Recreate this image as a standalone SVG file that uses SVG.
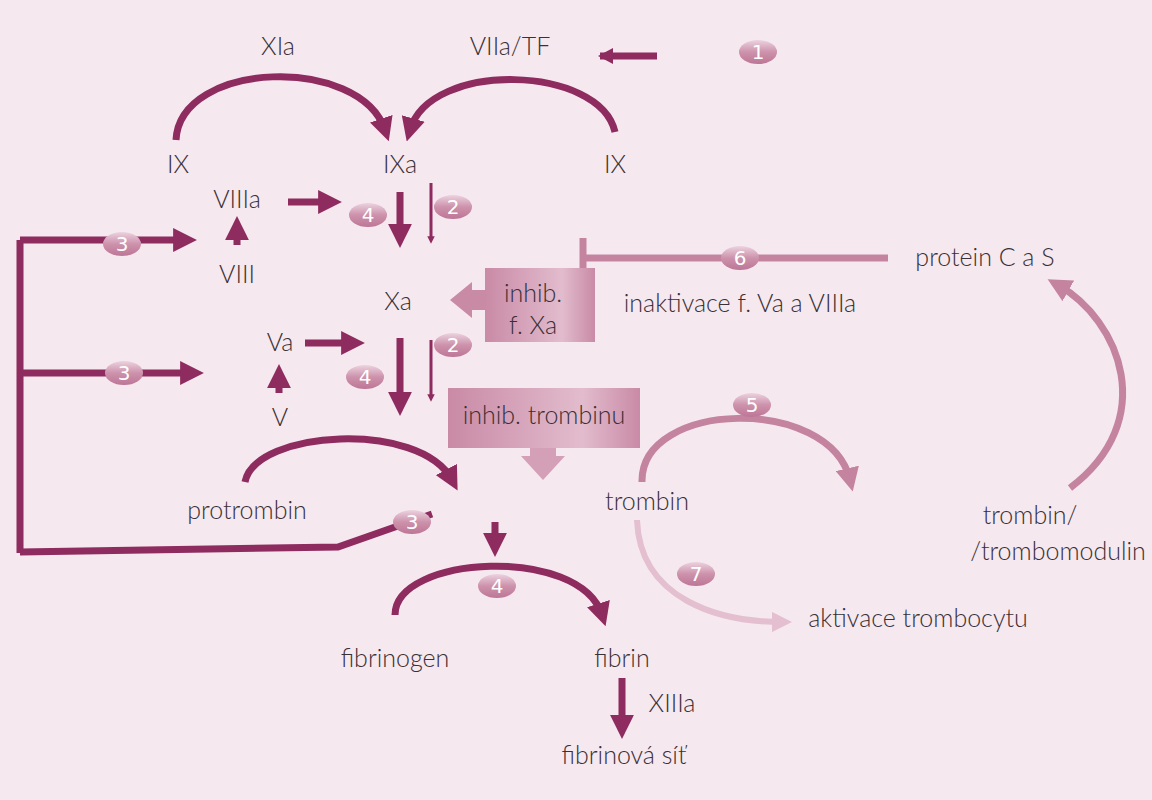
<svg xmlns="http://www.w3.org/2000/svg" width="1152" height="800" viewBox="0 0 1152 800">
<style>
text{font-family:Lato,"Open Sans","DejaVu Sans",sans-serif;font-size:25px;font-weight:300;fill:#3a3035;text-anchor:middle}
.d{fill:none;stroke:#8e2b5f;stroke-width:7}
.t{fill:none;stroke:#8e2b5f;stroke-width:3}
.m{fill:none;stroke:#c4839f;stroke-width:7}
.l{fill:none;stroke:#e4bfcf;stroke-width:6}
text.bn{fill:#fff;font-family:"DejaVu Sans",sans-serif;font-size:20px;font-weight:normal}
</style>
<defs>
<marker id="ad" viewBox="0 0 10 10" refX="5" refY="5" markerWidth="3.4" markerHeight="3.4" orient="auto" markerUnits="strokeWidth"><path d="M0,0L10,5L0,10z" fill="#8e2b5f"/></marker>
<marker id="at" viewBox="0 0 10 10" refX="5" refY="5" markerWidth="2.5" markerHeight="2.5" orient="auto" markerUnits="strokeWidth"><path d="M0,0L10,5L0,10z" fill="#8e2b5f"/></marker>
<marker id="am" viewBox="0 0 10 10" refX="5" refY="5" markerWidth="3.4" markerHeight="3.4" orient="auto" markerUnits="strokeWidth"><path d="M0,0L10,5L0,10z" fill="#c4839f"/></marker>
<marker id="al" viewBox="0 0 10 10" refX="5" refY="5" markerWidth="3.4" markerHeight="3.4" orient="auto" markerUnits="strokeWidth"><path d="M0,0L10,5L0,10z" fill="#e4bfcf"/></marker>
<linearGradient id="bg" x1="0" y1="0" x2="0" y2="1"><stop offset="0" stop-color="#ecd3df"/><stop offset="0.5" stop-color="#cd92ac"/><stop offset="1" stop-color="#bd7696"/></linearGradient>
<linearGradient id="bx" x1="0" y1="0" x2="1" y2="0"><stop offset="0" stop-color="#c98aa6"/><stop offset="0.7" stop-color="#e2bccd"/><stop offset="1" stop-color="#c98aa6"/></linearGradient>
</defs>
<rect width="1152" height="800" fill="#f6e8ef"/>
<g id="connectors">
<path class="d" d="M600,56H657"/><path d="M598,56l15,-8v16z" fill="#8e2b5f"/>
<path class="d" d="M176,140C180,60 360,55 385,130" marker-end="url(#ad)"/>
<path class="d" d="M615,132C600,65 430,60 410,130" marker-end="url(#ad)"/>
<path class="d" d="M288,202H330" marker-end="url(#ad)"/>
<path class="d" d="M400,192V236" marker-end="url(#ad)"/>
<path class="t" d="M431,183V240" marker-end="url(#at)"/>
<path class="d" d="M20,240V553M20,240H185" marker-end="url(#ad)"/>
<path class="d" d="M237,245V228" marker-end="url(#ad)"/>
<path class="d" d="M20,373H192" marker-end="url(#ad)"/>
<path class="d" d="M305,343H353" marker-end="url(#ad)"/>
<path class="d" d="M400,338V404" marker-end="url(#ad)"/>
<path class="t" d="M431,340V398" marker-end="url(#at)"/>
<path class="d" d="M279,393V376" marker-end="url(#ad)"/>
<path class="d" d="M245,482C255,430 420,420 452,480" marker-end="url(#ad)"/>
<path class="d" d="M20,552L338,547L432,514"/>
<path class="d" d="M495,522V545" marker-end="url(#ad)"/>
<path class="d" d="M395,615C395,555 580,545 602,615" marker-end="url(#ad)"/>
<path class="d" d="M622,678V727" marker-end="url(#ad)"/>
<path class="m" d="M888,258H583M583,238V270"/>
<path class="m" d="M642,482C640,400 830,395 850,480" marker-end="url(#am)"/>
<path class="m" d="M1070,488C1160,420 1120,320 1058,285" marker-end="url(#am)"/>
<path class="l" d="M637,520C640,600 720,622 782,622" marker-end="url(#al)"/>
<path d="M450,300L472,282V290H490V310H472V318z" fill="#c98aa6"/>
<rect x="485" y="268" width="110" height="74" fill="url(#bx)"/>
<rect x="448" y="388" width="192" height="60" fill="url(#bx)"/>
<path d="M530,448H556V456H565L543,480L521,456H530z" fill="#d4a0b8"/>
</g>
<g id="badges">
<g id="b1"><ellipse cx="758" cy="52" rx="19" ry="12" fill="url(#bg)"/><text class="bn" x="758" y="59">1</text></g>
<g id="b2a"><ellipse cx="453" cy="207" rx="19" ry="12" fill="url(#bg)"/><text class="bn" x="453" y="214">2</text></g>
<g id="b4a"><ellipse cx="368" cy="215" rx="19" ry="12" fill="url(#bg)"/><text class="bn" x="368" y="222">4</text></g>
<g id="b3a"><ellipse cx="122" cy="244" rx="19" ry="12" fill="url(#bg)"/><text class="bn" x="122" y="251">3</text></g>
<g id="b6"><ellipse cx="740" cy="258" rx="19" ry="12" fill="url(#bg)"/><text class="bn" x="740" y="265">6</text></g>
<g id="b2b"><ellipse cx="453" cy="345" rx="19" ry="12" fill="url(#bg)"/><text class="bn" x="453" y="352">2</text></g>
<g id="b3b"><ellipse cx="124" cy="373" rx="19" ry="12" fill="url(#bg)"/><text class="bn" x="124" y="380">3</text></g>
<g id="b4b"><ellipse cx="365" cy="377" rx="19" ry="12" fill="url(#bg)"/><text class="bn" x="365" y="384">4</text></g>
<g id="b5"><ellipse cx="752" cy="405" rx="19" ry="12" fill="url(#bg)"/><text class="bn" x="752" y="412">5</text></g>
<g id="b3c"><ellipse cx="412" cy="522" rx="19" ry="12" fill="url(#bg)"/><text class="bn" x="412" y="529">3</text></g>
<g id="b4c"><ellipse cx="497" cy="586" rx="19" ry="12" fill="url(#bg)"/><text class="bn" x="497" y="593">4</text></g>
<g id="b7"><ellipse cx="696" cy="574" rx="19" ry="12" fill="url(#bg)"/><text class="bn" x="696" y="581">7</text></g>
</g>
<g id="nodes">
<g id="n-xia"><text x="278" y="55">XIa</text></g>
<g id="n-viiatf"><text x="510" y="55">VIIa/TF</text></g>
<g id="n-ix1"><text x="178" y="173">IX</text></g>
<g id="n-ixa"><text x="400" y="173">IXa</text></g>
<g id="n-ix2"><text x="615" y="173">IX</text></g>
<g id="n-viiia"><text x="237" y="208">VIIIa</text></g>
<g id="n-viii"><text x="237" y="283">VIII</text></g>
<g id="n-proteinc"><text x="985" y="266">protein C a S</text></g>
<g id="n-xa"><text x="398" y="310">Xa</text></g>
<g id="n-inhxa"><text x="533" y="302">inhib.</text><text x="533" y="334">f. Xa</text></g>
<g id="n-inakt"><text x="740" y="312">inaktivace f. Va a VIIIa</text></g>
<g id="n-va"><text x="280" y="351">Va</text></g>
<g id="n-v"><text x="280" y="426">V</text></g>
<g id="n-inhtr"><text x="544" y="424">inhib. trombinu</text></g>
<g id="n-protrombin"><text x="247" y="519">protrombin</text></g>
<g id="n-trombin"><text x="647" y="510">trombin</text></g>
<g id="n-tm"><text x="1030" y="524">trombin/</text><text x="1058" y="560">/trombomodulin</text></g>
<g id="n-akt"><text x="918" y="627">aktivace trombocytu</text></g>
<g id="n-fibrinogen"><text x="395" y="667">fibrinogen</text></g>
<g id="n-fibrin"><text x="622" y="667">fibrin</text></g>
<g id="n-xiiia"><text x="672" y="712">XIIIa</text></g>
<g id="n-sit"><text x="624" y="764">fibrinová síť</text></g>
</g>
</svg>
